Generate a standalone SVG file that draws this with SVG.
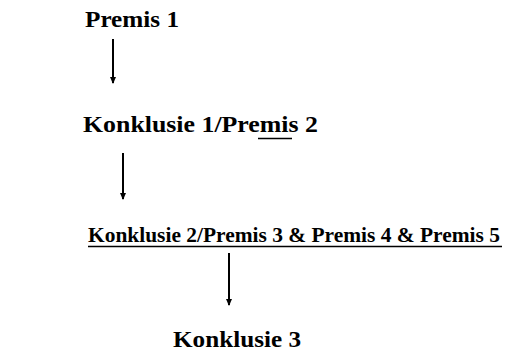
<svg xmlns="http://www.w3.org/2000/svg" width="505" height="357" viewBox="0 0 505 357">
  <style>
    .t { font-family: "Liberation Serif", "Times New Roman", serif; font-weight: bold; fill: #000; }
    .c { stroke: #000; stroke-width: 2; fill: none; }
    .u { stroke: #000; stroke-width: 1.6; }
  </style>
  <defs>
    <!-- small filled arrowhead, drawn along +x so orient="auto" points it down the line -->
    <marker id="head" viewBox="0 0 7 6" refX="6" refY="3" markerWidth="7" markerHeight="6" markerUnits="userSpaceOnUse" orient="auto">
      <path d="M0,0 L7,3 L0,6 Z" fill="#000"/>
    </marker>
  </defs>
  <rect width="505" height="357" fill="#fff"/>

  <g id="premis1">
    <text class="t" x="85" y="27" font-size="24" textLength="94" lengthAdjust="spacingAndGlyphs">Premis 1</text>
  </g>

  <g id="konklusie1">
    <text class="t" x="83" y="132" font-size="24" textLength="235" lengthAdjust="spacingAndGlyphs">Konklusie 1/Premis 2</text>
    <line class="u" x1="258" y1="138.5" x2="292" y2="138.5" stroke-width="1.2"/>
  </g>

  <g id="konklusie2">
    <text class="t" x="88" y="242" font-size="21.4" textLength="412" lengthAdjust="spacingAndGlyphs">Konklusie 2/Premis 3 &amp; Premis 4 &amp; Premis 5</text>
    <line class="u" x1="88" y1="246.5" x2="502" y2="246.5"/>
  </g>

  <g id="konklusie3">
    <text class="t" x="173" y="347" font-size="23" textLength="128" lengthAdjust="spacingAndGlyphs">Konklusie 3</text>
  </g>

  <g id="connectors">
    <line class="c" x1="113" y1="39" x2="113" y2="83" marker-end="url(#head)"/>
    <line class="c" x1="123" y1="153" x2="123" y2="199" marker-end="url(#head)"/>
    <line class="c" x1="229" y1="253" x2="229" y2="305" marker-end="url(#head)"/>
  </g>
</svg>
